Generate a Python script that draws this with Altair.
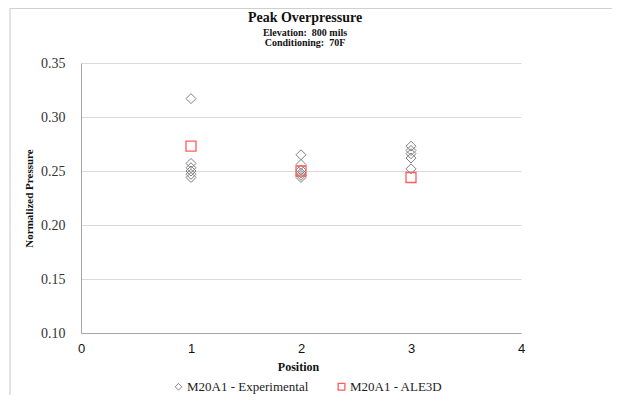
import altair as alt
import pandas as pd

# ---- data ----
title_lines = ["Peak Overpressure", "Elevation:\u00a0 800 mils", "Conditioning:\u00a0 70F"]
series_names = ["M20A1 - Experimental", "M20A1 - ALE3D"]

exp_position = [1, 1, 1, 1, 1, 1, 2, 2, 2, 2, 2, 2, 3, 3, 3, 3, 3]
exp_pressure = [0.317, 0.257, 0.253, 0.250, 0.247, 0.244,
                0.265, 0.256, 0.251, 0.248, 0.246, 0.244,
                0.273, 0.269, 0.266, 0.262, 0.252]
ale_position = [1, 2, 3]
ale_pressure = [0.273, 0.250, 0.244]

x_ticks = [0, 1, 2, 3, 4]
y_ticks = [0.10, 0.15, 0.20, 0.25, 0.30, 0.35]

df = pd.DataFrame({
    "Position": exp_position + ale_position,
    "Pressure": exp_pressure + ale_pressure,
    "Series": [series_names[0]] * len(exp_position) + [series_names[1]] * len(ale_position),
})

SERIF = "Liberation Serif"
SANS = "Liberation Sans"
diamond = "M0,-1L1,0L0,1L-1,0Z"

PLOT_W = 440

legend = alt.Legend(
    title=None, orient="none", legendX=91, legendY=317, direction="horizontal",
    labelFont=SERIF, labelFontSize=13, labelColor="#222222",
    symbolSize=45, symbolStrokeWidth=1, labelOffset=2, columnPadding=26, padding=0,
)

points = alt.Chart(df).mark_point(filled=False, size=100, opacity=1).encode(
    x=alt.X("Position:Q",
            scale=alt.Scale(domain=[0, 4], nice=False, zero=False),
            axis=alt.Axis(values=x_ticks, grid=False, ticks=False, domainColor="#a6a6a6",
                          labelFont=SANS, labelFontSize=13, labelColor="#111111",
                          labelPadding=9, labelFlush=False,
                          title="Position", titleFont=SERIF, titleFontSize=12,
                          titleFontWeight="bold", titleColor="#111111",
                          titleX=217, titleY=33, titleAlign="center", titleBaseline="middle")),
    y=alt.Y("Pressure:Q",
            scale=alt.Scale(domain=[0.10, 0.35], nice=False, zero=False),
            axis=alt.Axis(values=y_ticks, format=".2f", grid=True, gridColor="#d9d9d9",
                          ticks=False, domainColor="#a6a6a6",
                          labelFont=SERIF, labelFontSize=14, labelColor="#333333",
                          labelPadding=16,
                          title="Normalized Pressure", titleFont=SERIF, titleFontSize=11,
                          titleFontWeight="bold", titleColor="#111111",
                          titleX=-52, titleY=135, titleAngle=270,
                          titleAlign="center", titleBaseline="middle")),
    color=alt.Color("Series:N", scale=alt.Scale(domain=series_names, range=["#7f7f7f", "#ff5c5c"]),
                    legend=legend),
    shape=alt.Shape("Series:N", scale=alt.Scale(domain=series_names, range=[diamond, "square"]),
                    legend=legend),
    strokeWidth=alt.StrokeWidth("Series:N", scale=alt.Scale(domain=series_names, range=[1, 1.3]),
                                legend=None),
)

one = pd.DataFrame({"a": [0]})
frame_left = alt.Chart(one).mark_rule(color="#c8c8c8", strokeWidth=1).encode(
    x=alt.value(-71), y=alt.value(-55), y2=alt.value(340))
frame_top = alt.Chart(one).mark_rule(color="#d0d0d0", strokeWidth=1).encode(
    x=alt.value(-71), x2=alt.value(540), y=alt.value(-54.5))

title_df = pd.DataFrame({"t": title_lines})
TX = 224
t1 = alt.Chart(title_df.iloc[[0]]).mark_text(font=SERIF, fontSize=14, fontWeight="bold",
                                             baseline="alphabetic", align="center", color="#111111").encode(
    text="t:N", x=alt.value(TX), y=alt.value(-41))
t2 = alt.Chart(title_df.iloc[[1]]).mark_text(font=SERIF, fontSize=10, fontWeight="bold",
                                             baseline="alphabetic", align="center", color="#111111").encode(
    text="t:N", x=alt.value(TX), y=alt.value(-27))
t3 = alt.Chart(title_df.iloc[[2]]).mark_text(font=SERIF, fontSize=10, fontWeight="bold",
                                             baseline="alphabetic", align="center", color="#111111").encode(
    text="t:N", x=alt.value(TX), y=alt.value(-17))

chart = alt.layer(frame_left, frame_top, points, t1, t2, t3).properties(
    width=PLOT_W, height=270,
    autosize=alt.AutoSizeParams(type="none"),
    padding={"left": 73, "top": 55, "right": 91, "bottom": 62},
).configure_view(strokeOpacity=0)

chart.save("out.html", embed_options={"renderer": "svg", "actions": False})
